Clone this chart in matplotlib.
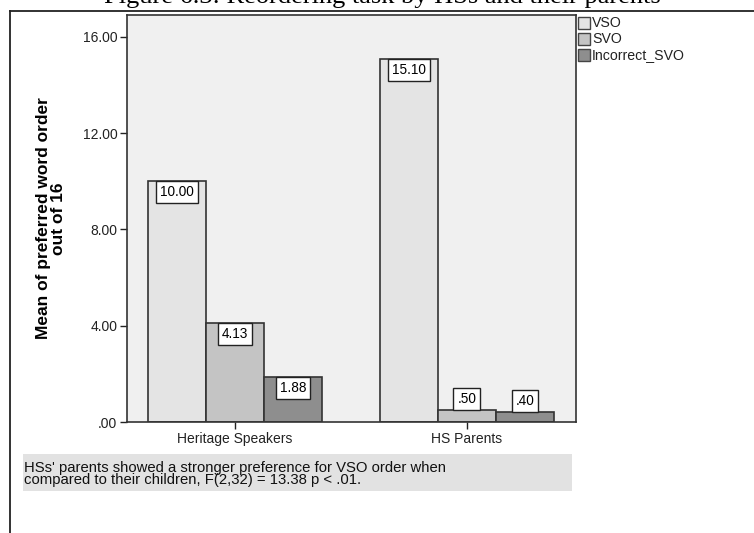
import matplotlib
matplotlib.use("Agg")
import matplotlib.pyplot as plt
from matplotlib.patches import Rectangle
from matplotlib.lines import Line2D
import numpy as np

# data
groups = ["Heritage Speakers", "HS Parents"]
series = ["VSO", "SVO", "Incorrect_SVO"]
vso = [10.00, 15.10]
svo = [4.13, 0.50]
incorrect_svo = [1.88, 0.40]
value_labels = [["10.00", "15.10"], ["4.13", ".50"], ["1.88", ".40"]]
yticks = [0, 4, 8, 12, 16]
ytick_labels = [".00", "4.00", "8.00", "12.00", "16.00"]

title = "Figure 6.3: Reordering task by HSs and their parents"
ylabel = "Mean of preferred word order\nout of 16"
caption = ("HSs' parents showed a stronger preference for VSO order when\n"
           "compared to their children, F(2,32) = 13.38 p < .01.")

colors = ["#e4e4e4", "#c4c4c4", "#8e8e8e"]
plt.rcParams["font.family"] = ["Liberation Sans", "DejaVu Sans"]

W, H = 754, 533
fig = plt.figure(figsize=(W / 100, H / 100), dpi=100)


def fx(px):
    return px / W


def fy(py):
    return 1 - py / H


# axes placement in pixels: left 127, right 576, top 15, bottom 422
ax = fig.add_axes([fx(127), fy(422), fx(576 - 127), (422 - 15) / H])
ax.set_facecolor("#f0f0f0")

x = np.arange(len(groups))
width = 0.25
all_vals = [vso, svo, incorrect_svo]
ax.set_xlim(-0.4655, 1.47)
ax.set_ylim(0, 16.91)

px_per_unit = (422 - 15) / 16.91
box_h_units = 22 / px_per_unit

for i, vals in enumerate(all_vals):
    xs = x + (i - 1) * width
    ax.bar(xs, vals, width=width, color=colors[i], edgecolor="#333333",
           linewidth=1.2, zorder=2)
    for xi, v, lab in zip(xs, vals, value_labels[i]):
        box = dict(boxstyle="square,pad=0.3", fc="white", ec="#222222", lw=1)
        if v > box_h_units + 0.2:
            ax.text(xi, v - 0.17, lab, ha="center", va="top", fontsize=9.8,
                    zorder=4, bbox=box)
        else:
            ax.text(xi, v + 0.17, lab, ha="center", va="bottom",
                    fontsize=9.8, zorder=4, bbox=box)

ax.set_yticks(yticks)
ax.set_yticklabels(ytick_labels)
ax.set_xticks(x)
ax.set_xticklabels(groups)
ax.tick_params(axis="both", direction="out", length=5, width=1,
               labelsize=10, colors="#222222", pad=2)
for sp in ax.spines.values():
    sp.set_color("#333333")
    sp.set_linewidth(1.2)

ax.set_ylabel(ylabel, fontsize=12.5, fontweight="bold", labelpad=12,
              linespacing=0.95)

# legend on the right of the plot area
leg_rows = [23, 39, 55]
for name, c, yy in zip(series, colors, leg_rows):
    fig.patches.append(Rectangle((fx(578), fy(yy + 6)), fx(12), 12 / H,
                                 transform=fig.transFigure, fc=c,
                                 ec="#444444", lw=1))
    fig.text(fx(592), fy(yy), name, fontsize=10.2, va="center", ha="left",
             color="#222222")

# caption panel
fig.patches.append(Rectangle((fx(23), fy(491)), fx(572 - 23), (491 - 454) / H,
                             transform=fig.transFigure, fc="#e2e2e2",
                             ec="none"))
fig.text(fx(24), fy(474), caption, fontsize=10.7, va="center", ha="left",
         linespacing=0.85, color="#111111")

# outer frame
fig.lines.append(Line2D([fx(10), 1], [fy(11), fy(11)],
                        transform=fig.transFigure, color="#222222", lw=1.3))
fig.lines.append(Line2D([fx(10), fx(10)], [fy(11), 0],
                        transform=fig.transFigure, color="#222222", lw=1.3))

# heading above the frame
fig.text(fx(382), fy(3), title, fontsize=19, ha="center", va="baseline",
         family=["Liberation Serif", "DejaVu Serif"])

fig.savefig("out.png", dpi=100)
